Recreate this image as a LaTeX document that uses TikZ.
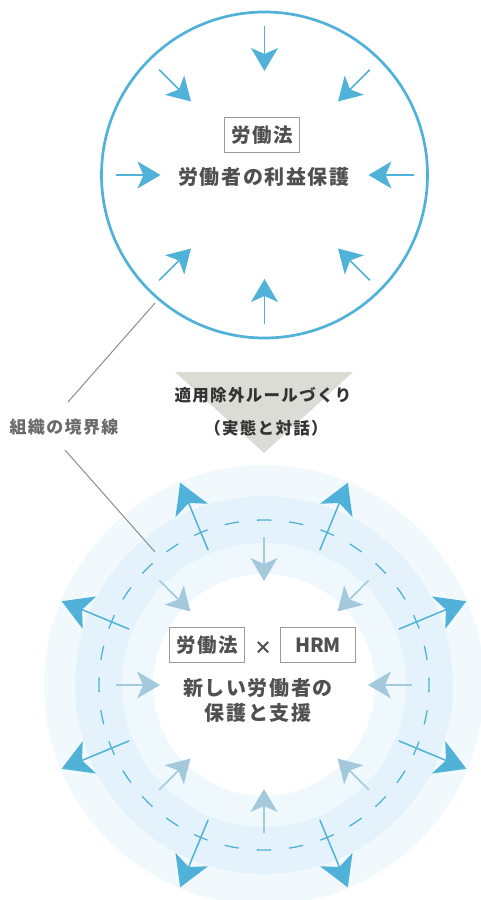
\documentclass[tikz,border=0pt]{standalone}
\usepackage{fontspec}
\setmainfont{Noto Sans CJK JP}
\newfontfamily\jpsp[LetterSpace=8]{Noto Sans CJK JP}
\usetikzlibrary{arrows.meta,calc}
\definecolor{mainblue}{HTML}{50B2D8}
\definecolor{paleblue}{HTML}{A4C9DC}
\definecolor{ringA}{HTML}{F2F9FD}
\definecolor{ringB}{HTML}{E4F2FB}
\definecolor{ringC}{HTML}{EFF8FD}
\definecolor{txtgray}{HTML}{505050}
\definecolor{lblgray}{HTML}{6A6A6A}
\definecolor{linegray}{HTML}{8C8C8C}
\definecolor{boxgray}{HTML}{9A9A9A}
\definecolor{trigray}{HTML}{DCDCD6}
\definecolor{tritxt}{HTML}{333333}
\tikzset{
  inarrow/.style={line width=1.5pt,-{Stealth[length=23pt,width=27pt,inset=6pt]}},
  outarrow/.style={line width=1.5pt,draw=mainblue,-{Stealth[length=30pt,width=35pt,inset=8pt]}},
  lawbox/.style={draw=boxgray,line width=0.8pt,minimum width=75pt,minimum height=35pt,inner sep=0pt,font=\jpsp\bfseries\fontsize{19.5pt}{22pt}\selectfont,text=txtgray},
  maintext/.style={font=\jpsp\bfseries\fontsize{20pt}{25pt}\selectfont,text=txtgray,align=center,inner sep=0pt},
  tritext/.style={font=\jpsp\bfseries\fontsize{16.5pt}{20pt}\selectfont,text=tritxt,inner sep=0pt},
  connector/.style={draw=linegray,line width=1pt}
}
\begin{document}
\begin{tikzpicture}[x=1pt,y=-1pt]
\useasboundingbox (0,0) rectangle (481,900);
% ---------- top circle ----------
\coordinate (tc) at (264.5,175);
\node[circle,draw=mainblue,line width=2.7pt,minimum size=326pt,inner sep=0pt] (topc) at (tc) {};
\foreach \a in {0,45,...,315}
  \draw[inarrow,draw=mainblue,fill=mainblue] ($(tc)+(\a:149)$) -- ($(tc)+(\a:104)$);
\node[lawbox] (law1) at (262,135) {労働法};
\node[maintext] (benefit) at (264,177) {労働者の利益保護};
% ---------- triangle ----------
\fill[trigray] (175,372) -- (353,372) -- (264,453) -- cycle;
\node[tritext] (rule1) at (263,395) {適用除外ルールづくり};
\node[tritext] (rule2) at (266,428) {（実態と対話）};
% ---------- bottom circle ----------
\coordinate (bc) at (264,685);
\fill[ringA] (bc) circle[radius=220pt];
\fill[ringB] (bc) circle[radius=189pt];
\fill[ringC] (bc) circle[radius=142pt];
\fill[white] (bc) circle[radius=111pt];
\node[circle,draw=mainblue,line width=1.3pt,minimum size=330pt,inner sep=0pt,
  dash pattern=on 14.5pt off 17.898pt,dash phase=7.25pt] (dashc) at (bc) {};
\foreach \a in {0,45,...,315}
  \draw[inarrow,draw=paleblue,fill=paleblue] ($(bc)+(\a:148)$) -- ($(bc)+(\a:104)$);
\foreach \a in {22.5,67.5,...,337.5}
  \draw[outarrow,fill=mainblue] ($(bc)+(\a:146)$) -- ($(bc)+(\a:219)$);
\node[lawbox] (law2) at (207,645) {労働法};
\node[font=\jpsp\bfseries\fontsize{18pt}{18pt}\selectfont,text=txtgray,inner sep=0pt] (times) at (263,648) {×};
\node[lawbox,font=\bfseries\fontsize{19.5pt}{22pt}\selectfont] (hrm) at (318,645) {HRM};
\node[maintext] (newprot) at (258,700) {新しい労働者の\\保護と支援};
% ---------- boundary label ----------
\node[font=\jpsp\bfseries\fontsize{17pt}{20pt}\selectfont,text=lblgray,inner sep=0pt] (border) at (64,427) {組織の境界線};
\coordinate (bdtop) at (68,402);
\coordinate (bdbot) at (65,450);
\coordinate (topedge) at (155,303);
\coordinate (botedge) at (155,552);
\draw[connector] (topedge) -- (bdtop);
\draw[connector] (bdbot) -- (botedge);
\end{tikzpicture}
\end{document}
